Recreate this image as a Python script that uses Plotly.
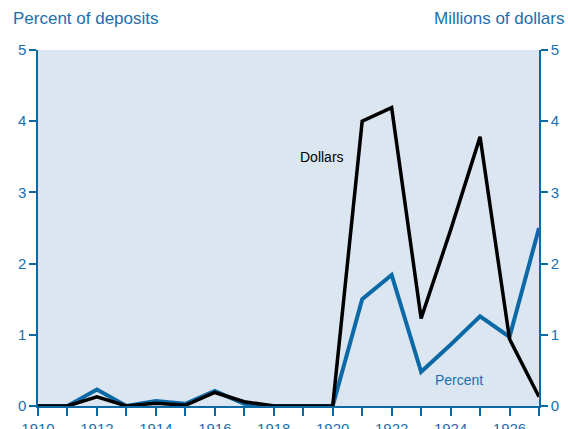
import plotly.graph_objects as go

years = list(range(1910, 1928))
percent = [0, 0, 0.23, 0, 0.07, 0.03, 0.21, 0.03, 0, 0, 0,
           1.50, 1.84, 0.48, 0.86, 1.26, 0.97, 2.50]
dollars = [0, 0, 0.13, 0, 0.04, 0.01, 0.19, 0.06, 0, 0, 0,
           4.00, 4.19, 1.23, 2.47, 3.78, 0.94, 0.13]
tick_text = [str(y) if y % 2 == 0 else "" for y in years]

blue = "#0b6aa6"
text_blue = "#1a6fae"
bg = "#dce6f0"

fig = go.Figure()
fig.add_trace(go.Scatter(x=years, y=dollars, mode="lines", name="Dollars",
                         line=dict(color="black", width=3.5), yaxis="y2"))
fig.add_trace(go.Scatter(x=years, y=percent, mode="lines", name="Percent",
                         line=dict(color=blue, width=4)))

axis_common = dict(range=[0, 5], dtick=1, showgrid=False, zeroline=False,
                   showline=True, linecolor=blue, linewidth=1.5, automargin=False,
                   ticks="outside", ticklen=7, tickcolor=blue, tickwidth=1.5,
                   tickfont=dict(size=15, color=text_blue))

fig.update_layout(
    width=568, height=429,
    margin=dict(l=38, r=29, t=50, b=23),
    paper_bgcolor="white", plot_bgcolor=bg,
    font=dict(family="Liberation Sans, Arial, sans-serif"),
    showlegend=False,
    xaxis=dict(range=[1910, 1927], tickvals=years, ticktext=tick_text,
               showgrid=False, zeroline=False, showline=True, linecolor=blue,
               linewidth=1.5, ticks="outside", ticklen=8, tickcolor=blue,
               tickwidth=1.5, automargin=False,
               tickfont=dict(size=15, color=text_blue)),
    yaxis=dict(**axis_common, side="left"),
    yaxis2=dict(**axis_common, side="right", overlaying="y"),
    annotations=[
        dict(text="Percent of deposits", x=0, y=1, xref="paper", yref="paper",
             xshift=-27, yshift=20, xanchor="left", yanchor="bottom",
             showarrow=False, font=dict(size=17, color=text_blue)),
        dict(text="Millions of dollars", x=1, y=1, xref="paper", yref="paper",
             xshift=27, yshift=20, xanchor="right", yanchor="bottom",
             showarrow=False, font=dict(size=17, color=text_blue)),
        dict(text="Dollars", x=1919.65, y=3.5, showarrow=False,
             font=dict(size=14, color="black")),
        dict(text="Percent", x=1924.27, y=0.37, showarrow=False,
             font=dict(size=14, color=text_blue)),
    ],
)

# the page body has an 8px default margin; drop it so the chart fills the window
fig.write_html("out.html", config={"displayModeBar": False},
               post_script="document.body.style.margin='0';")
